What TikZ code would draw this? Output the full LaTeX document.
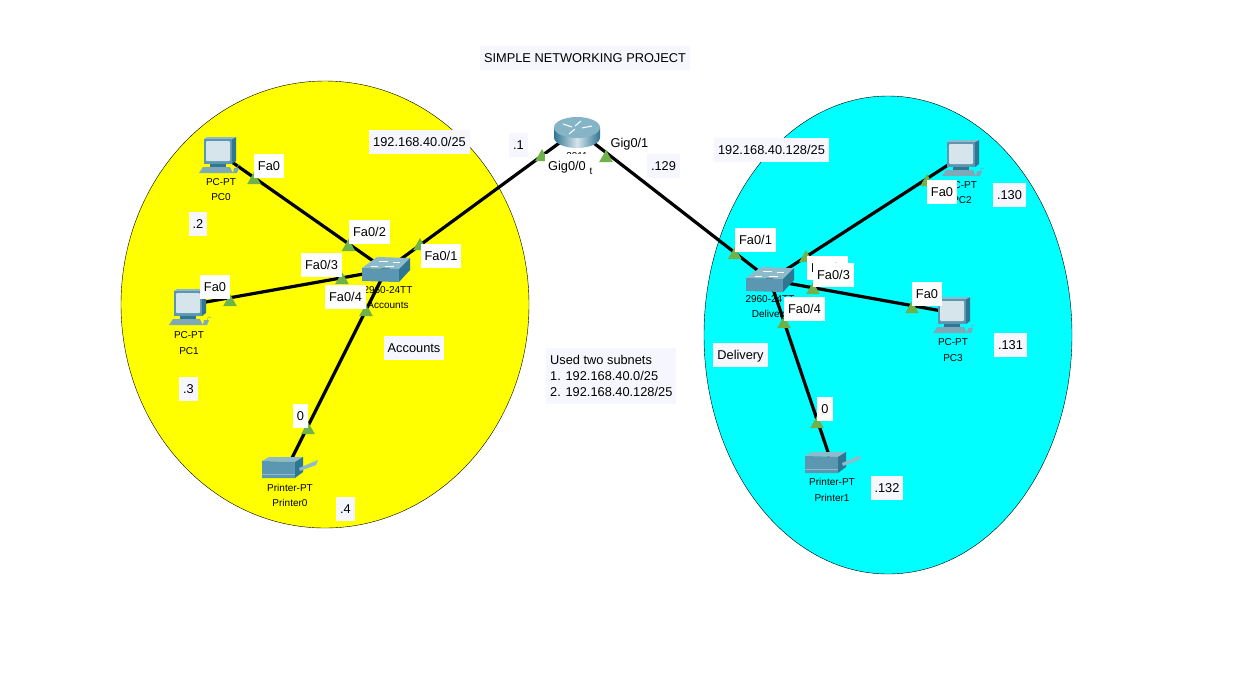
\documentclass[tikz,border=0pt]{standalone}
\usepackage{fontspec}
\setmainfont{Liberation Sans}
\definecolor{tealfront}{HTML}{5B97B0}
\definecolor{tealdark}{HTML}{2F7692}
\definecolor{teallight}{HTML}{8DBBCB}
\definecolor{tealbase}{HTML}{7FA8B8}
\definecolor{screenc}{HTML}{D6E4EC}
\definecolor{tint}{HTML}{F6F7FE}
\definecolor{porttri}{HTML}{6FB24A}
\definecolor{zoneyellow}{HTML}{FFFF00}
\definecolor{zonecyan}{HTML}{00FFFF}
\definecolor{pagewhite}{HTML}{FFFFFF}
\tikzset{
  x=1pt,y=-1pt,
  link/.style={line width=3.2pt,draw=black},
  zone/.style={draw=black,line width=0.4pt},
  device/.style={inner sep=0pt,minimum size=2pt},
  devtext/.style={inner sep=0pt,font=\fontsize{10}{12}\selectfont,text=black},
  portlab/.style={fill=pagewhite,inner xsep=4pt,inner ysep=0pt,minimum height=24pt,text height=9.2pt,text depth=0pt,font=\fontsize{12.8}{15}\selectfont,text=black},
  notelab/.style={portlab,fill=tint},
  pics/porttriangle/.style={code={\fill[porttri] (-6.8,0)--(6.8,0)--(0,-12)--cycle;}},
  pics/pcicon/.style={code={
    \fill[tealdark] (13,-14)--(17,-16)--(17,8)--(13,11)--cycle;
    \fill[teallight] (-15,-14)--(-12,-16)--(17,-16)--(13,-14)--cycle;
    \fill[tealfront] (-15,-14) rectangle (13,11);
    \fill[screenc,rounded corners=1pt] (-13,-12) rectangle (11,8);
    \fill[tealdark] (-9,11) rectangle (7,14);
    \fill[tealbase] (-16,14)--(11,14)--(14,20)--(-20,20)--cycle;
    \fill[tealbase] (15,15)--(20,15)--(18,20)--(14,20)--cycle;
    \draw[tealbase,line width=0.5pt] (18,15) .. controls (19,11) and (22,11) .. (22,13);
  }},
  pics/switchicon/.style={code={
    \fill[teallight] (-24,-2)--(-9,-13)--(24,-12)--(13,-1)--cycle;
    \fill[tealfront] (-24,-2)--(13,-1)--(13,12)--(-24,11)--cycle;
    \fill[tealdark] (13,-1)--(24,-12)--(24,0)--(13,12)--cycle;
    \draw[pagewhite,line width=0.7pt] (-7,-9)--(2,-9) (7,-8)--(14,-8) (-15,-4)--(-8,-4) (-1,-4)--(8,-4);
  }},
  pics/routericon/.style={code={
    \path[left color=tealdark,right color=tealdark,middle color=screenc]
      (-23,-2.5) -- (-23,7.5) arc[start angle=180,end angle=0,x radius=23,y radius=10.5] -- (23,-2.5) -- cycle;
    \fill[teallight!90!tealdark] (0,-2.5) ellipse[x radius=23,y radius=10.5];
    \draw[pagewhite,line width=1pt] (-14,-6)--(-5,-3) (4,-9)--(-2,-4) (5,-2)--(15,-4) (-8,4)--(-2,-1);
  }},
  pics/printericon/.style={code={
    \fill[teallight] (-26,-5)--(-19,-9)--(15,-9)--(7,-4)--cycle;
    \fill[tealfront] (-26,-5)--(7,-4)--(7,12)--(-26,12)--cycle;
    \fill[tealdark] (7,-4)--(15,-9)--(15,6)--(7,12)--cycle;
    \fill[teallight] (11,2)--(30,-6)--(28,-1)--(12,5)--cycle;
    \draw[teallight,line width=0.6pt] (-26,8)--(7,8);
  }},
}
\begin{document}
\begin{tikzpicture}
\useasboundingbox (0,0) rectangle (1258,681);
\fill[pagewhite] (0,0) rectangle (1258,681);

% zones
\draw[zone,fill=zoneyellow] (325,304.5) ellipse[x radius=204,y radius=223.5];
\draw[zone,fill=zonecyan] (888,335) ellipse[x radius=184,y radius=239];

% device anchors
\node[device] (pc0) at (219,153) {};
\node[device] (pc1) at (189,305) {};
\node[device] (pc2) at (962,156) {};
\node[device] (pc3) at (953,313) {};
\node[device] (swa) at (386,270) {};
\node[device] (swd) at (770,280) {};
\node[device] (rt) at (577,130) {};
\node[device] (pr0) at (288,466) {};
\node[device] (pr1) at (831,461) {};

% links
\draw[link] (pc0.center) -- (swa.center);
\draw[link] (pc1.center) -- (swa.center);
\draw[link] (pr0.center) -- (swa.center);
\draw[link] (swa.center) -- (rt.center);
\draw[link] (rt.center) -- (swd.center);
\draw[link] (pc2.center) -- (swd.center);
\draw[link] (pc3.center) -- (swd.center);
\draw[link] (pr1.center) -- (swd.center);

% icons
\pic at (pc0.center) {pcicon};
\pic at (pc1.center) {pcicon};
\pic at (pc2.center) {pcicon};
\pic at (pc3.center) {pcicon};
\pic at (swa.center) {switchicon};
\pic at (swd.center) {switchicon};
\pic at (rt.center) {routericon};
\pic at (pr0.center) {printericon};
\pic at (pr1.center) {printericon};

% port triangles
\pic at (254,184) {porttriangle};
\pic at (348.5,251) {porttriangle};
\pic at (342,284) {porttriangle};
\pic at (366,316) {porttriangle};
\pic at (420,250) {porttriangle};
\pic at (230,306) {porttriangle};
\pic at (308,434) {porttriangle};
\pic at (542,161) {porttriangle};
\pic at (606,162) {porttriangle};
\pic at (734.7,259) {porttriangle};
\pic at (806,262) {porttriangle};
\pic at (813,294) {porttriangle};
\pic at (784,328) {porttriangle};
\pic at (927,186) {porttriangle};
\pic at (912,313) {porttriangle};
\pic at (817,428) {porttriangle};

% device texts
\node[devtext] (tpc0a) at (221,182) {PC-PT};
\node[devtext] (tpc0b) at (221,197) {PC0};
\node[devtext] (tpc1a) at (189,335) {PC-PT};
\node[devtext] (tpc1b) at (189,351) {PC1};
\node[devtext] (tpc2a) at (962,185) {PC-PT};
\node[devtext] (tpc2b) at (962,200) {PC2};
\node[devtext] (tpc3a) at (953,342) {PC-PT};
\node[devtext] (tpc3b) at (953,358) {PC3};
\node[devtext] (tswaa) at (388,290) {2960-24TT};
\node[devtext] (tswab) at (388,305) {Accounts};
\node[devtext] (tswda) at (770,299) {2960-24TT};
\node[devtext] (tswdb) at (770,315) {Delivery};
\node[devtext] (tpr0a) at (290,488) {Printer-PT};
\node[devtext] (tpr0b) at (290,503) {Printer0};
\node[devtext] (tpr1a) at (832,482) {Printer-PT};
\node[devtext] (tpr1b) at (832,498) {Printer1};
\node[devtext] (trta) at (577,156) {2911};
\node[devtext] (trtb) at (591,171) {t};

% port labels
\node[portlab] (l1) at (269,166) {Fa0};
\node[portlab] (l2) at (369.5,232) {Fa0/2};
\node[portlab] (l3) at (321.5,265) {Fa0/3};
\node[portlab] (l4) at (345.5,297) {Fa0/4};
\node[portlab] (l5) at (441,256) {Fa0/1};
\node[portlab] (l6) at (215,287) {Fa0};
\node[portlab] (l7) at (300.5,416) {0};
\node[portlab,inner xsep=1.5pt,minimum height=16pt,minimum width=44pt] (l8) at (567,161.5) {};
\node[portlab,inner xsep=0pt,minimum height=12pt,fill=none,anchor=center] (l8t) at (567,166) {Gig0/0};
\node[portlab,inner xsep=1pt,minimum height=14pt,fill=none] (l9) at (629.5,143) {Gig0/1};
\node[portlab] (l10) at (755.5,240) {Fa0/1};
\node[portlab] (l11) at (827.5,268) {Fa0/2};
\node[portlab] (l12) at (833.5,275) {Fa0/3};
\node[portlab] (l13) at (804.5,309) {Fa0/4};
\node[portlab] (l14) at (942,192) {Fa0};
\node[portlab] (l15) at (927,294) {Fa0};
\node[portlab] (l16) at (825,409) {0};

% notes
\node[notelab] (n1) at (585,58) {SIMPLE NETWORKING PROJECT};
\node[notelab] (n2) at (419.5,142) {192.168.40.0/25};
\node[notelab] (n3) at (771.5,150) {192.168.40.128/25};
\node[notelab] (n4) at (518.5,145) {.1};
\node[notelab] (n5) at (663.5,166) {.129};
\node[notelab] (n6) at (198,224) {.2};
\node[notelab] (n7) at (188.5,389) {.3};
\node[notelab] (n8) at (345.5,509) {.4};
\node[notelab] (n9) at (1009.5,195) {.130};
\node[notelab] (n10) at (1010.5,345) {.131};
\node[notelab] (n11) at (887,488) {.132};
\node[notelab] (n12) at (414,348) {Accounts};
\node[notelab] (n13) at (740.5,355) {Delivery};
\node[fill=tint,text=black,inner xsep=4pt,inner ysep=7pt,align=left,font=\fontsize{12.8}{16}\selectfont,anchor=north west] (n14) at (546,348) {Used two subnets\\1. 192.168.40.0/25\\2. 192.168.40.128/25};
\end{tikzpicture}
\end{document}
